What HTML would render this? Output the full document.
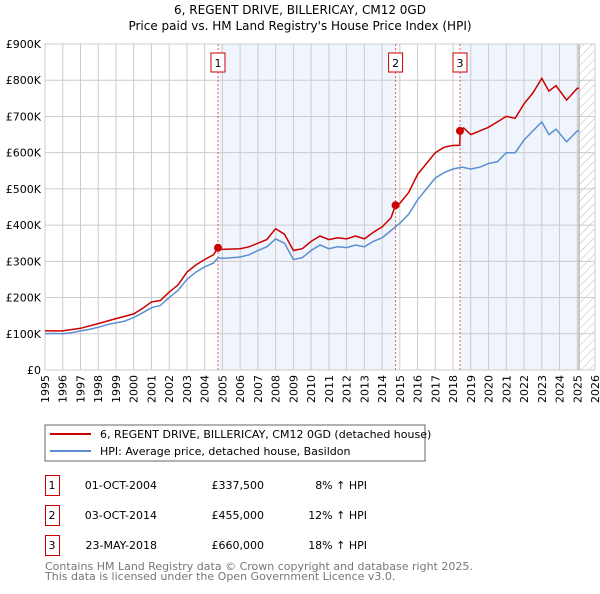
<!DOCTYPE html>
<html><head><meta charset="utf-8"><style>
body{margin:0;width:600px;height:590px;background:#fff;font-family:"DejaVu Sans","Liberation Sans",sans-serif;overflow:hidden}
svg text{font-family:"DejaVu Sans","Liberation Sans",sans-serif}
</style></head><body>
<svg id="c" width="600" height="590" xmlns="http://www.w3.org/2000/svg">
<defs><pattern id="hatch" width="6" height="6" patternUnits="userSpaceOnUse" patternTransform="rotate(45)"><line x1="0" y1="0" x2="0" y2="6" stroke="#bbb" stroke-width="1"/></pattern></defs>
<text x="300" y="14" text-anchor="middle" font-size="12" fill="#000">6, REGENT DRIVE, BILLERICAY, CM12 0GD</text>
<text x="300" y="30" text-anchor="middle" font-size="12" fill="#000">Price paid vs. HM Land Registry's House Price Index (HPI)</text>
<g id="plot"></g>
<rect x="45" y="425" width="380" height="36" fill="#fff" stroke="#666"/>
<line x1="50" y1="434" x2="91" y2="434" stroke="#cc0000" stroke-width="2"/>
<text x="100" y="438" font-size="11">6, REGENT DRIVE, BILLERICAY, CM12 0GD (detached house)</text>
<line x1="50" y1="451" x2="91" y2="451" stroke="#5b8fd0" stroke-width="2"/>
<text x="100" y="455" font-size="11">HPI: Average price, detached house, Basildon</text>
<g font-size="11">
<rect x="45.5" y="475.5" width="14" height="20" fill="none" stroke="#cc0000"/><text x="52" y="489" text-anchor="middle">1</text>
<text x="157" y="489" text-anchor="end">01-OCT-2004</text><text x="264" y="489" text-anchor="end">£337,500</text><text x="367" y="489" text-anchor="end">8% ↑ HPI</text>
<rect x="45.5" y="505.5" width="14" height="20" fill="none" stroke="#cc0000"/><text x="52" y="519" text-anchor="middle">2</text>
<text x="157" y="519" text-anchor="end">03-OCT-2014</text><text x="264" y="519" text-anchor="end">£455,000</text><text x="367" y="519" text-anchor="end">12% ↑ HPI</text>
<rect x="45.5" y="535.5" width="14" height="20" fill="none" stroke="#cc0000"/><text x="52" y="549" text-anchor="middle">3</text>
<text x="157" y="549" text-anchor="end">23-MAY-2018</text><text x="264" y="549" text-anchor="end">£660,000</text><text x="367" y="549" text-anchor="end">18% ↑ HPI</text>
</g>
<text x="45" y="570" font-size="11" fill="#777">Contains HM Land Registry data © Crown copyright and database right 2025.</text>
<text x="45" y="580" font-size="11" fill="#777">This data is licensed under the Open Government Licence v3.0.</text>
</svg>
<script>
const yTicks=[0,100,200,300,400,500,600,700,800,900];
const yTickLabels=["£0","£100K","£200K","£300K","£400K","£500K","£600K","£700K","£800K","£900K"];
const years=[1995,1996,1997,1998,1999,2000,2001,2002,2003,2004,2005,2006,2007,2008,2009,2010,2011,2012,2013,2014,2015,2016,2017,2018,2019,2020,2021,2022,2023,2024,2025,2026];
const hpiT=[1995,1995.5,1996,1996.5,1997,1997.5,1998,1998.5,1999,1999.5,2000,2000.5,2001,2001.5,2002,2002.5,2003,2003.5,2004,2004.5,2004.75,2005,2005.5,2006,2006.5,2007,2007.5,2008,2008.5,2009,2009.5,2010,2010.5,2011,2011.5,2012,2012.5,2013,2013.5,2014,2014.5,2015,2015.5,2016,2016.5,2017,2017.5,2018,2018.5,2019,2019.5,2020,2020.5,2021,2021.5,2022,2022.5,2023,2023.4,2023.8,2024.4,2025,2025.1];
const hpiV=[100,101,100,103,108,112,118,125,130,135,145,158,172,178,200,220,250,270,285,295,310,308,310,312,318,330,340,362,350,305,310,330,345,335,340,338,345,340,355,365,385,405,430,470,500,530,545,555,560,555,560,570,575,600,600,635,660,685,650,665,630,660,660];
const priceT=[1995,1996,1997,1998,1999,2000,2000.5,2001,2001.5,2002,2002.5,2003,2003.5,2004,2004.5,2004.75,2005,2006,2006.5,2007,2007.5,2008,2008.5,2009,2009.5,2010,2010.5,2011,2011.5,2012,2012.5,2013,2013.5,2014,2014.5,2014.75,2015,2015.5,2016,2016.5,2017,2017.5,2018,2018.38,2018.4,2018.6,2019,2019.5,2020,2020.5,2021,2021.5,2022,2022.5,2023,2023.4,2023.8,2024.4,2025,2025.1];
const priceV=[108,108,115,128,142,155,170,188,192,215,235,270,290,305,318,337.5,333,335,340,350,360,390,375,330,335,355,370,360,365,362,370,362,380,395,420,455,460,490,540,570,600,615,620,620,660,668,650,660,670,685,700,695,735,765,805,770,785,745,778,778];
const saleT=[2004.75,2014.76,2018.39];
const saleV=[337.5,455,660];
const saleLabels=["1","2","3"];
const X0=45,X1=595,Y0=370,Y1=44,T0=1995,T1=2026,VMAX=900;
const xs=t=>X0+(t-T0)/(T1-T0)*(X1-X0);
const ys=v=>Y0-v/VMAX*(Y0-Y1);
const NS="http://www.w3.org/2000/svg";
const g=document.getElementById('plot');
function mk(tag,attrs){const e=document.createElementNS(NS,tag);for(const k in attrs)e.setAttribute(k,attrs[k]);g.appendChild(e);return e;}
let r=mk('rect',{x:X0,y:Y1,width:X1-X0,height:Y0-Y1,fill:'#fff'});


// shaded ownership periods
const shade=[[saleT[0],saleT[1]],[saleT[2],2025.1]];
shade.forEach((s,i)=>{const e=mk('rect',{x:xs(s[0]),y:Y1,width:xs(s[1])-xs(s[0]),height:Y0-Y1,fill:'#f0f4fd'});

});
const h=mk('rect',{x:xs(2025.1),y:Y1,width:X1-xs(2025.1),height:Y0-Y1,fill:'url(#hatch)'});


years.forEach(yr=>{const e=mk('line',{x1:xs(yr),x2:xs(yr),y1:Y1,y2:Y0,stroke:'#ccc','stroke-width':1});


const t=mk('text',{x:0,y:0,'font-size':11,'text-anchor':'end',transform:`translate(${xs(yr)+4},${Y0+5}) rotate(-90)`});
t.textContent=yr;

});
yTicks.forEach((v,i)=>{const e=mk('line',{x1:X0,x2:X1,y1:ys(v),y2:ys(v),stroke:'#ccc','stroke-width':1});


const t=mk('text',{x:X0-4,y:ys(v)+4,'font-size':11,'text-anchor':'end'});
t.textContent=yTickLabels[i];

});
const ln=mk('line',{x1:xs(2025.1),x2:xs(2025.1),y1:Y1,y2:Y0,stroke:'#999','stroke-width':1});


saleT.forEach((t,i)=>{const e=mk('line',{x1:xs(t),x2:xs(t),y1:Y1,y2:Y0,stroke:'#e06060','stroke-width':1,'stroke-dasharray':'2,2'});


const b=mk('rect',{x:xs(t)-7,y:53,width:14,height:19,fill:'#fff',stroke:'#cc0000'});


const tx=mk('text',{x:xs(t),y:67,'font-size':11,'text-anchor':'middle'});
tx.textContent=saleLabels[i];

});
const pts=(T,V)=>T.map((t,i)=>xs(t).toFixed(1)+','+ys(V[i]).toFixed(1)).join(' ');
const hp=mk('polyline',{points:pts(hpiT,hpiV),fill:'none',stroke:'#5b8fd0','stroke-width':1.5});


const pp=mk('polyline',{points:pts(priceT,priceV),fill:'none',stroke:'#cc0000','stroke-width':1.5});


saleT.forEach((t,i)=>{const c=mk('circle',{cx:xs(t),cy:ys(saleV[i]),r:4,fill:'#cc0000'});

});
</script>
</body></html>
